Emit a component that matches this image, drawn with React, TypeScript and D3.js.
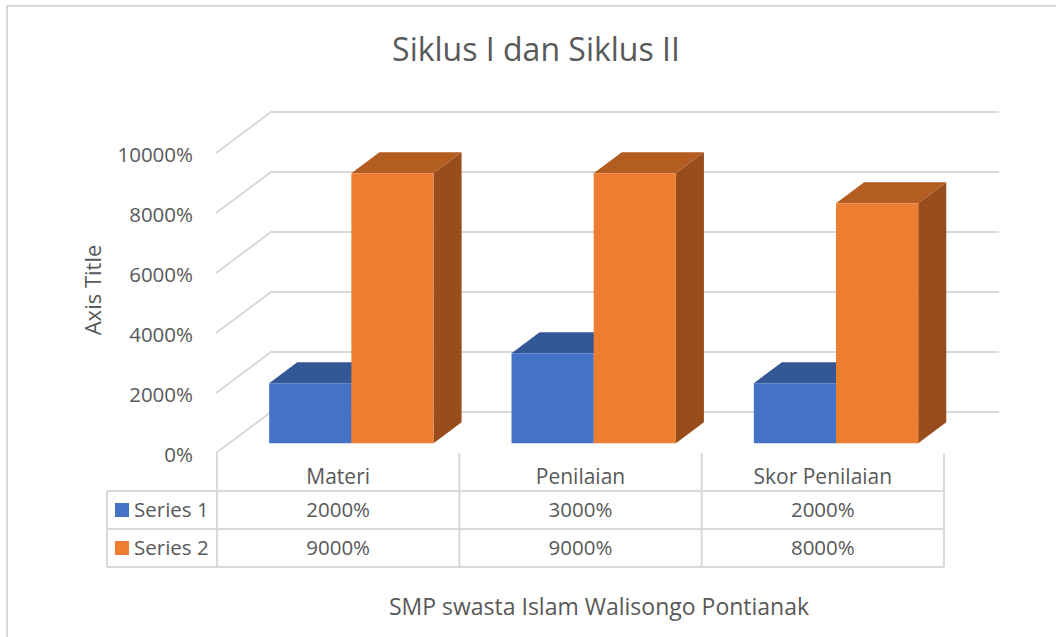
import React from "react";
import { scaleBand, scaleLinear, range } from "d3";

const categories = ["Materi", "Penilaian", "Skor Penilaian"];
const seriesNames = ["Series 1", "Series 2"];
const series1 = [2000, 3000, 2000];
const series2 = [9000, 9000, 8000];
const yTicks = [0, 2000, 4000, 6000, 8000, 10000];

const W = 1056;
const H = 637;
const FONT = "'Open Sans', 'Noto Sans', sans-serif";
const TXT = "#595959";
const GRID = "#d9d9d9";

// face colours: front, top, side
const COLORS = [
  { front: "#4472c4", top: "#345896", side: "#2f5290" },
  { front: "#ed7d31", top: "#b45d21", side: "#994d1c" },
];

// oblique depth offset for the full floor depth
const DX = 55;
const DY = -41;
const Z0 = 0.24;
const Z1 = 0.75;

const fmt = (v: number) => `${v}%`;

export default function App() {
  const values = [series1, series2];

  const x = scaleBand<string>().domain(categories).range([217, 944]);
  const y = scaleLinear().domain([0, 10000]).range([453, 153]);
  const inner = scaleBand<number>()
    .domain(range(seriesNames.length))
    .range([39, x.bandwidth() - 39]);

  const proj = (px: number, py: number, z: number) =>
    `${px + z * DX},${py + z * DY}`;

  const bars: JSX.Element[] = [];
  categories.forEach((c, ci) => {
    values.forEach((vals, si) => {
      const x0 = (x(c) as number) + (inner(si) as number);
      const x1 = x0 + inner.bandwidth();
      const yb = y(0);
      const yt = y(vals[ci]);
      const col = COLORS[si];
      bars.push(
        <g key={`${ci}-${si}`}>
          <polygon
            points={[
              proj(x1, yb, Z0),
              proj(x1, yb, Z1),
              proj(x1, yt, Z1),
              proj(x1, yt, Z0),
            ].join(" ")}
            fill={col.side}
          />
          <polygon
            points={[
              proj(x0, yt, Z0),
              proj(x1, yt, Z0),
              proj(x1, yt, Z1),
              proj(x0, yt, Z1),
            ].join(" ")}
            fill={col.top}
          />
          <polygon
            points={[
              proj(x0, yb, Z0),
              proj(x1, yb, Z0),
              proj(x1, yt, Z0),
              proj(x0, yt, Z0),
            ].join(" ")}
            fill={col.front}
          />
        </g>
      );
    });
  });

  const tableLeft = 107;
  const rowTops = [491, 529, 567];
  const rowMid = [517, 555];
  const colLines = [...categories.map((c) => x(c) as number), 944];

  return (
    <svg
      width={W}
      height={H}
      style={{ position: "absolute", left: 0, top: 0, background: "#fff" }}
      fontFamily={FONT}
    >
      <rect x={0} y={0} width={W} height={H} fill="#fff" />
      <rect
        x={7}
        y={6}
        width={W + 50}
        height={H + 50}
        fill="none"
        stroke={GRID}
        strokeWidth={2}
      />

      <text x={536} y={61} textAnchor="middle" fontSize={32} fill={TXT}>
        Siklus I dan Siklus II
      </text>

      {/* side and back walls */}
      {yTicks.map((t) => (
        <polyline
          key={t}
          points={[
            proj(216, y(t), 0),
            proj(216, y(t), 1),
            proj(944, y(t), 1),
          ].join(" ")}
          stroke={GRID}
          strokeWidth={2}
          fill="none"
        />
      ))}

      {yTicks.map((t) => (
        <text
          key={t}
          x={193}
          y={y(t) + 9}
          textAnchor="end"
          fontSize={20.5}
          fill={TXT}
        >
          {fmt(t)}
        </text>
      ))}

      <text
        transform="translate(101,290) rotate(-90)"
        textAnchor="middle"
        fontSize={22}
        fill={TXT}
      >
        Axis Title
      </text>

      {bars}

      {/* data table */}
      <g stroke={GRID} strokeWidth={2}>
        {rowTops.map((ry) => (
          <line key={ry} x1={tableLeft} x2={944} y1={ry} y2={ry} />
        ))}
        <line x1={tableLeft} x2={tableLeft} y1={491} y2={567} />
        {colLines.map((cx) => (
          <line key={cx} x1={cx} x2={cx} y1={453} y2={567} />
        ))}
      </g>
      {categories.map((c) => (
        <text
          key={c}
          x={(x(c) as number) + x.bandwidth() / 2}
          y={484}
          textAnchor="middle"
          fontSize={21}
          fill={TXT}
        >
          {c}
        </text>
      ))}
      {seriesNames.map((s, si) => (
        <g key={s}>
          <rect
            x={115}
            y={rowMid[si] - 14}
            width={14}
            height={14}
            fill={COLORS[si].front}
          />
          <text x={134} y={rowMid[si]} fontSize={20.5} fill={TXT}>
            {s}
          </text>
          {categories.map((c, ci) => (
            <text
              key={c}
              x={(x(c) as number) + x.bandwidth() / 2}
              y={rowMid[si]}
              textAnchor="middle"
              fontSize={20.5}
              fill={TXT}
            >
              {fmt(values[si][ci])}
            </text>
          ))}
        </g>
      ))}

      <text x={599} y={615} textAnchor="middle" fontSize={23} fill={TXT}>
        SMP swasta Islam Walisongo Pontianak
      </text>
    </svg>
  );
}
